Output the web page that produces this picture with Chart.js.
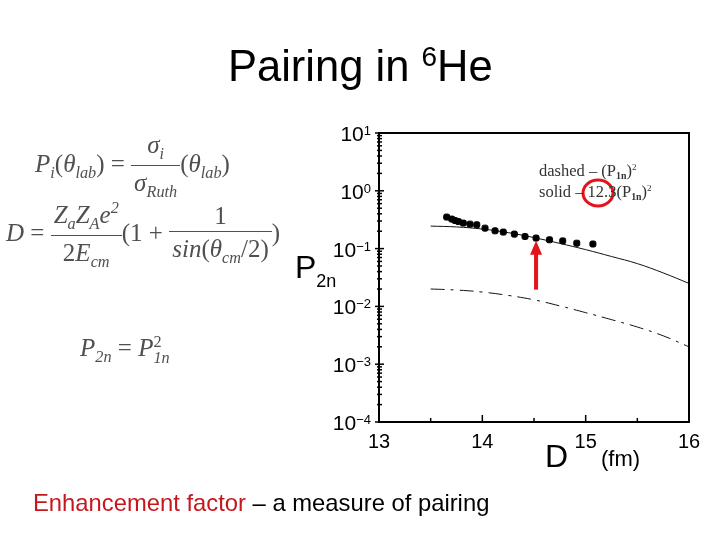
<!DOCTYPE html>
<html>
<head>
<meta charset="utf-8">
<script src="https://cdn.jsdelivr.net/npm/chart.js@4.4.0/dist/chart.umd.min.js"></script>
<style>
body { margin: 0; background: #fff; }
#wrap { position: relative; width: 720px; height: 540px; overflow: hidden; font-family: Arial, "Liberation Sans", sans-serif; }
#c { position: absolute; left: 0; top: 0; }
.t { position: absolute; white-space: nowrap; line-height: 1; }
.eq { font-family: "Liberation Serif", "DejaVu Serif", serif; font-size: 25px; color: #505050; }
.eq i { font-style: italic; }
.eq sub { font-size: 65%; vertical-align: -0.35em; }
.eq sup { font-size: 65%; vertical-align: 0.6em; }
.fr { display: inline-flex; flex-direction: column; vertical-align: middle; text-align: center; }
.fr .n { border-bottom: 1.4px solid #505050; padding: 0 3px 3px 3px; }
.fr .d { padding: 4px 3px 0 3px; }
.note { font-family: "Liberation Serif", "DejaVu Serif", serif; font-size: 16.5px; color: #333; }
.note sub { font-size: 60%; font-weight: bold; vertical-align: -0.3em; }
.note sup { font-size: 55%; vertical-align: 0.7em; }
</style>
</head>
<body>
<div id="wrap">
<canvas id="c" width="720" height="540"></canvas>

<div class="t" style="left:228px; top:45px; font-size:43.5px;">Pairing in <span style="font-size:28px; position:relative; top:-15px;">6</span>He</div>

<div class="t eq" style="left:35px; top:132px;"><i>P<sub>i</sub></i>(<i>θ<sub>lab</sub></i>) = <span class="fr"><span class="n"><i>σ<sub>i</sub></i></span><span class="d"><i>σ<sub>Ruth</sub></i></span></span>(<i>θ<sub>lab</sub></i>)</div>

<div class="t eq" style="left:6px; top:200px;"><i>D</i> = <span class="fr"><span class="n"><i>Z<sub>a</sub>Z<sub>A</sub>e<sup>2</sup></i></span><span class="d">2<i>E<sub>cm</sub></i></span></span>(1 + <span class="fr"><span class="n">1</span><span class="d"><i>sin</i>(<i>θ<sub>cm</sub></i>/2)</span></span>)</div>

<div class="t eq" style="left:80px; top:334px;"><i>P</i><sub><i>2n</i></sub> = <i>P</i><span style="display:inline-flex; flex-direction:column; vertical-align:middle; font-size:65%; line-height:1;"><span>2</span><span><i>1n</i></span></span></div>

<div class="t" style="left:295px; top:251px; font-size:32px;">P<span style="font-size:18px; position:relative; top:9px;">2n</span></div>

<div class="t" style="left:545px; top:440px; font-size:32px;">D</div>
<div class="t" style="left:601px; top:448px; font-size:22px;">(fm)</div>

<div class="t note" style="left:539px; top:163px;">dashed – (P<sub>1n</sub>)<sup>2</sup></div>
<div class="t note" style="left:539px; top:184px;">solid – 12.3(P<sub>1n</sub>)<sup>2</sup></div>

<div class="t" style="left:33px; top:491px; font-size:23.8px;"><span style="color:#c8161d;">Enhancement factor</span> – a measure of pairing</div>
</div>

<script>
// measured points (D in fm, P2n)
var pointsD = [13.655, 13.704, 13.736, 13.768, 13.816, 13.881, 13.946, 14.026, 14.123, 14.203, 14.310, 14.413, 14.520, 14.650, 14.778, 14.914, 15.070];
var pointsP = [0.351, 0.324, 0.306, 0.294, 0.276, 0.265, 0.258, 0.226, 0.203, 0.193, 0.178, 0.162, 0.152, 0.142, 0.136, 0.124, 0.120];

// curves
var curveD = [13.5, 13.75, 14.0, 14.25, 14.5, 14.75, 15.0, 15.25, 15.5, 15.75, 16.0];
var solidP = [0.245, 0.237, 0.218, 0.189, 0.155, 0.123, 0.096, 0.073, 0.055, 0.038, 0.025];
var dashedP = [0.0200, 0.0192, 0.0177, 0.0155, 0.0130, 0.0102, 0.0078, 0.0059, 0.0044, 0.0031, 0.0020];

var xTicks = [13, 14, 15, 16];
var yExps = [1, 0, -1, -2, -3, -4];

function toXY(xs, ys) {
    var out = [];
    for (var i = 0; i < xs.length; i++) {
        out.push({x: xs[i], y: ys[i]});
    }
    return out;
}

var frame = {
    id: 'frame',
    afterDraw: function(chart) {
        var ctx = chart.ctx;
        var a = chart.chartArea;
        var x = chart.scales.x;
        var y = chart.scales.y;
        ctx.save();
        ctx.strokeStyle = '#000';
        ctx.fillStyle = '#000';
        ctx.lineWidth = 2;
        ctx.strokeRect(a.left, a.top, a.right - a.left, a.bottom - a.top);

        // y ticks + labels
        ctx.lineWidth = 1.5;
        yExps.forEach(function(e) {
            var py = y.getPixelForValue(Math.pow(10, e));
            ctx.beginPath();
            ctx.moveTo(a.left - 4, py);
            ctx.lineTo(a.left + 5, py);
            ctx.stroke();
            if (e > -4) {
                for (var m = 2; m < 10; m++) {
                    var pm = y.getPixelForValue(m * Math.pow(10, e - 1));
                    ctx.beginPath();
                    ctx.moveTo(a.left - 2, pm);
                    ctx.lineTo(a.left + 3, pm);
                    ctx.stroke();
                }
            }
            var ex = e < 0 ? '\u2212' + (-e) : String(e);
            ctx.font = '13px Arial';
            var w2 = ctx.measureText(ex).width;
            var right = a.left - 8;
            ctx.textAlign = 'left';
            ctx.textBaseline = 'alphabetic';
            ctx.fillText(ex, right - w2, py + 2);
            ctx.font = '21px Arial';
            ctx.textAlign = 'right';
            ctx.fillText('10', right - w2, py + 8);
        });

        // x ticks + labels
        for (var v = 13; v <= 16; v += 0.5) {
            var px = x.getPixelForValue(v);
            var major = (v % 1 === 0);
            ctx.beginPath();
            ctx.moveTo(px, a.bottom);
            ctx.lineTo(px, a.bottom - (major ? 7 : 4));
            ctx.stroke();
        }
        ctx.font = '20px Arial';
        ctx.textAlign = 'center';
        ctx.textBaseline = 'middle';
        xTicks.forEach(function(t) {
            ctx.fillText(String(t), x.getPixelForValue(t), a.bottom + 20);
        });

        // red circle round 12.3
        ctx.strokeStyle = '#e3141b';
        ctx.lineWidth = 3;
        ctx.beginPath();
        ctx.ellipse(598, 193, 15, 13, 0, 0, Math.PI * 2);
        ctx.stroke();

        // red arrow at D = 14.52
        var ax = x.getPixelForValue(14.52);
        var tip = y.getPixelForValue(0.148) + 2;
        var tail = y.getPixelForValue(0.0195);
        ctx.fillStyle = '#e3141b';
        ctx.fillRect(ax - 2, tip + 12, 4, tail - tip - 12);
        ctx.beginPath();
        ctx.moveTo(ax, tip);
        ctx.lineTo(ax - 6, tip + 14);
        ctx.lineTo(ax + 6, tip + 14);
        ctx.closePath();
        ctx.fill();
        ctx.restore();
    }
};

new Chart(document.getElementById('c'), {
    type: 'scatter',
    data: {
        datasets: [{
            label: 'data',
            data: toXY(pointsD, pointsP),
            backgroundColor: '#000',
            borderColor: '#000',
            pointStyle: 'rectRounded',
            pointRadius: 3.5
        }, {
            label: 'solid',
            data: toXY(curveD, solidP),
            showLine: true,
            borderColor: '#111',
            borderWidth: 1,
            pointRadius: 0,
            tension: 0.4
        }, {
            label: 'dashed',
            data: toXY(curveD, dashedP),
            showLine: true,
            borderColor: '#111',
            borderWidth: 1,
            borderDash: [14, 6, 3, 6],
            pointRadius: 0,
            tension: 0.4
        }]
    },
    options: {
        responsive: false,
        animation: false,
        layout: { padding: { left: 379, top: 133, right: 31, bottom: 118 } },
        plugins: { legend: { display: false }, tooltip: { enabled: false } },
        scales: {
            x: { type: 'linear', min: 13, max: 16, display: false },
            y: { type: 'logarithmic', min: 0.0001, max: 10, display: false }
        }
    },
    plugins: [frame]
});
</script>
</body>
</html>
